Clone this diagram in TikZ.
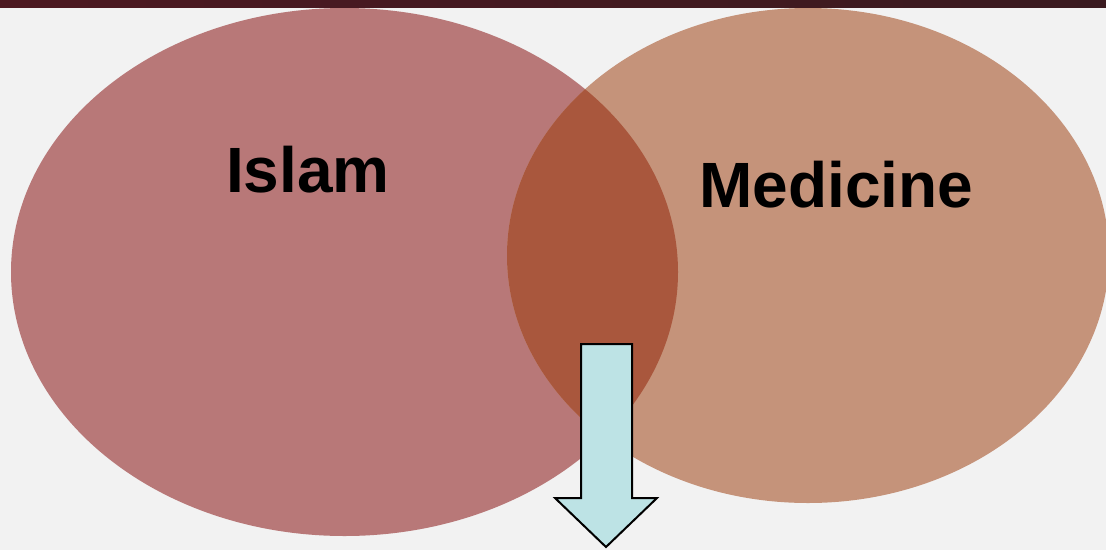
\documentclass[tikz,border=0pt]{standalone}
\usepackage{fontspec}
\setmainfont{Liberation Sans}
\definecolor{bgc}{HTML}{F2F2F2}
\definecolor{barl}{HTML}{4D1921}
\definecolor{barr}{HTML}{3A1A20}
\definecolor{leftc}{HTML}{B87878}
\definecolor{rightc}{HTML}{C5937A}
\definecolor{overc}{HTML}{A9573D}
\definecolor{arrowc}{HTML}{BDE3E5}
\tikzset{
  label/.style={font=\fontsize{48}{56}\selectfont\bfseries, inner sep=0pt, anchor=base, text=black},
  arrowbox/.style={fill=arrowc, draw=black, line width=1.5pt, line join=miter}
}
\begin{document}
\begin{tikzpicture}[x=0.75pt, y=-0.75pt]
\useasboundingbox (0,0) rectangle (1106,550);
\fill[bgc] (0,0) rectangle (1106,550);
\shade[left color=barl, right color=barr] (0,0) rectangle (1106,7);
\fill[leftc] (344.5,272) ellipse [x radius=250.125pt, y radius=198pt];
\fill[rightc] (808,255.5) ellipse [x radius=225.75pt, y radius=185.625pt];
\begin{scope}
  \clip (344.5,272) ellipse [x radius=250.125pt, y radius=198pt];
  \fill[overc] (808,255.5) ellipse [x radius=225.75pt, y radius=185.625pt];
\end{scope}
\node[label] (islam) at (308,192) {Islam};
\node[label] (medicine) at (836.5,207) {Medicine};
\draw[arrowbox] (581,344) -- (632,344) -- (632,498) -- (657,498) -- (606,547) -- (555,498) -- (581,498) -- cycle;
\end{tikzpicture}
\end{document}
